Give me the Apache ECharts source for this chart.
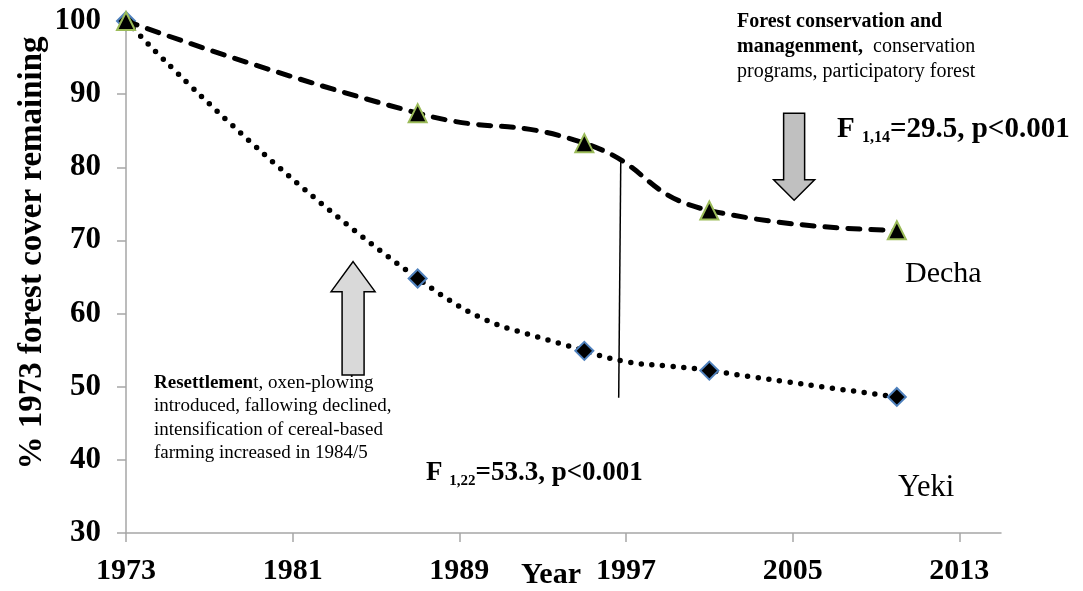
<!DOCTYPE html>
<html>
<head>
<meta charset="utf-8">
<script src="https://cdn.jsdelivr.net/npm/echarts@6/dist/echarts.min.js"></script>
<style>html,body{margin:0;padding:0;background:#fff}#c{width:1083px;height:591px}</style>
</head>
<body>
<div id="c"></div>
<script>
const years = [1973, 1987, 1995, 2001, 2010];
const decha = [100, 87.4, 83.3, 74.1, 71.4];
const yeki = [100, 64.8, 54.9, 52.2, 48.6];
const xTicks = [1973, 1981, 1989, 1997, 2005, 2013];
const dividerLine = [[1996.75, 81.2], [1996.65, 48.5]];
const upArrow = {x: 1983.9, tip: 67.1, neck: 63.0, base: 51.6};
const downArrow = {x: 2005.07, top: 87.4, neck: 78.3, tip: 75.5};

const FONT = '"Liberation Serif", "Times New Roman", serif';
const chart = echarts.init(document.getElementById('c'));

const option = {
  animation: false,
  grid: {left: 126, right: 82, top: 21, bottom: 58},
  xAxis: {
    type: 'value', min: 1973, max: 2015, interval: 8,
    axisLine: {lineStyle: {color: '#A6A6A6', width: 1.5}},
    axisTick: {show: true, length: 9, lineStyle: {color: '#A6A6A6', width: 1.5}, customValues: xTicks},
    axisLabel: {customValues: xTicks, margin: 23, fontFamily: FONT, fontWeight: 'bold', fontSize: 30, color: '#000',
      formatter: v => String(v)},
    splitLine: {show: false}
  },
  yAxis: {
    type: 'value', min: 30, max: 100, interval: 10,
    axisLine: {show: true, lineStyle: {color: '#A6A6A6', width: 1.5}},
    axisTick: {show: true, length: 9, lineStyle: {color: '#A6A6A6', width: 1.5}},
    axisLabel: {margin: 25, fontFamily: FONT, fontWeight: 'bold', fontSize: 31, color: '#000'},
    splitLine: {show: false}
  },
  series: [
    {
      name: 'Yeki', type: 'line', smooth: 0.5,
      data: years.map((y, i) => [y, yeki[i]]),
      symbol: 'diamond', symbolSize: 18,
      itemStyle: {color: '#000', borderColor: '#4F81BD', borderWidth: 2},
      lineStyle: {color: '#000', width: 5.5, type: [0, 10.7], cap: 'round'},
      z: 2
    },
    {
      name: 'Decha', type: 'line', smooth: 0.5,
      data: years.map((y, i) => [y, decha[i]]),
      symbol: 'triangle', symbolSize: 18,
      itemStyle: {color: '#000', borderColor: '#9BBB59', borderWidth: 2},
      lineStyle: {color: '#000', width: 5, type: [12, 11], cap: 'round'},
      z: 3
    },
    {
      name: 'divider', type: 'line', data: dividerLine, symbol: 'none',
      lineStyle: {color: '#000', width: 1.5}, z: 1, silent: true
    }
  ]
};
chart.setOption(option);

function px(x, y) { return chart.convertToPixel({gridIndex: 0}, [x, y]); }

function arrowUp(a, headHalf, shaftHalf, fill) {
  const t = px(a.x, a.tip), n = px(a.x, a.neck), b = px(a.x, a.base);
  const cx = t[0];
  return {type: 'polygon', shape: {points: [
    [cx, t[1]], [cx + headHalf, n[1]], [cx + shaftHalf, n[1]], [cx + shaftHalf, b[1]],
    [cx - shaftHalf, b[1]], [cx - shaftHalf, n[1]], [cx - headHalf, n[1]]]},
    style: {fill: fill, stroke: '#000', lineWidth: 1.5}, z: 10};
}
function arrowDown(a, headHalf, shaftHalf, fill) {
  const t = px(a.x, a.top), n = px(a.x, a.neck), p = px(a.x, a.tip);
  const cx = t[0];
  return {type: 'polygon', shape: {points: [
    [cx - shaftHalf, t[1]], [cx + shaftHalf, t[1]], [cx + shaftHalf, n[1]], [cx + headHalf, n[1]],
    [cx, p[1]], [cx - headHalf, n[1]], [cx - shaftHalf, n[1]]]},
    style: {fill: fill, stroke: '#000', lineWidth: 1.5}, z: 10};
}

const txt = (x, y, text, extra) => Object.assign({type: 'text', x: x, y: y, z: 20,
  style: Object.assign({text: text, fontFamily: FONT, fill: '#000'}, extra)});

chart.setOption({
  graphic: [
    arrowUp(upArrow, 22, 11, '#D9D9D9'),
    arrowDown(downArrow, 20.5, 10.5, '#C0C0C0'),
    {type: 'text', x: 32, y: 253, rotation: Math.PI / 2, z: 20,
      style: {text: '% 1973 forest cover remaining', fontFamily: FONT, fontWeight: 'bold', fontSize: 33,
        fill: '#000', textAlign: 'center', textVerticalAlign: 'middle'}},
    txt(551, 575, 'Year', {fontWeight: 'bold', fontSize: 30, textAlign: 'center', textVerticalAlign: 'middle'}),
    txt(737, 10, '{b|Forest conservation and}\n{b|managenment,}{n|  conservation}\n{n|programs, participatory forest}', {
      textVerticalAlign: 'top', rich: {
        b: {fontFamily: FONT, fontWeight: 'bold', fontSize: 20, lineHeight: 24.5, fill: '#000'},
        n: {fontFamily: FONT, fontSize: 20, lineHeight: 24.5, fill: '#000'}
      }}),
    txt(154, 371, '{b|Resettlemen}{n|t, oxen-plowing}\n{n|introduced, fallowing declined,}\n{n|intensification of cereal-based}\n{n|farming increased in 1984/5}', {
      textVerticalAlign: 'top', rich: {
        b: {fontFamily: FONT, fontWeight: 'bold', fontSize: 19, lineHeight: 23.5, fill: '#000'},
        n: {fontFamily: FONT, fontSize: 19, lineHeight: 23.5, fill: '#000'}
      }}),
    txt(837, 114, '{f|F }{s|1,14}{m|=29.5, p<0.001}', {
      textVerticalAlign: 'top', rich: {
        f: {fontFamily: FONT, fontWeight: 'bold', fontSize: 29, lineHeight: 32, fill: '#000'},
        s: {fontFamily: FONT, fontWeight: 'bold', fontSize: 16, lineHeight: 16, verticalAlign: 'bottom', fill: '#000'},
        m: {fontFamily: FONT, fontWeight: 'bold', fontSize: 29, lineHeight: 32, fill: '#000'}
      }}),
    txt(426, 457, '{f|F }{s|1,22}{m|=53.3, p<0.001}', {
      textVerticalAlign: 'top', rich: {
        f: {fontFamily: FONT, fontWeight: 'bold', fontSize: 27, lineHeight: 32, fill: '#000'},
        s: {fontFamily: FONT, fontWeight: 'bold', fontSize: 15, lineHeight: 16, verticalAlign: 'bottom', fill: '#000'},
        m: {fontFamily: FONT, fontWeight: 'bold', fontSize: 27, lineHeight: 32, fill: '#000'}
      }}),
    txt(905, 274, 'Decha', {fontSize: 30, textVerticalAlign: 'middle'}),
    txt(898, 488, 'Yeki', {fontSize: 30.5, textVerticalAlign: 'middle'})
  ]
});
</script>
</body>
</html>
